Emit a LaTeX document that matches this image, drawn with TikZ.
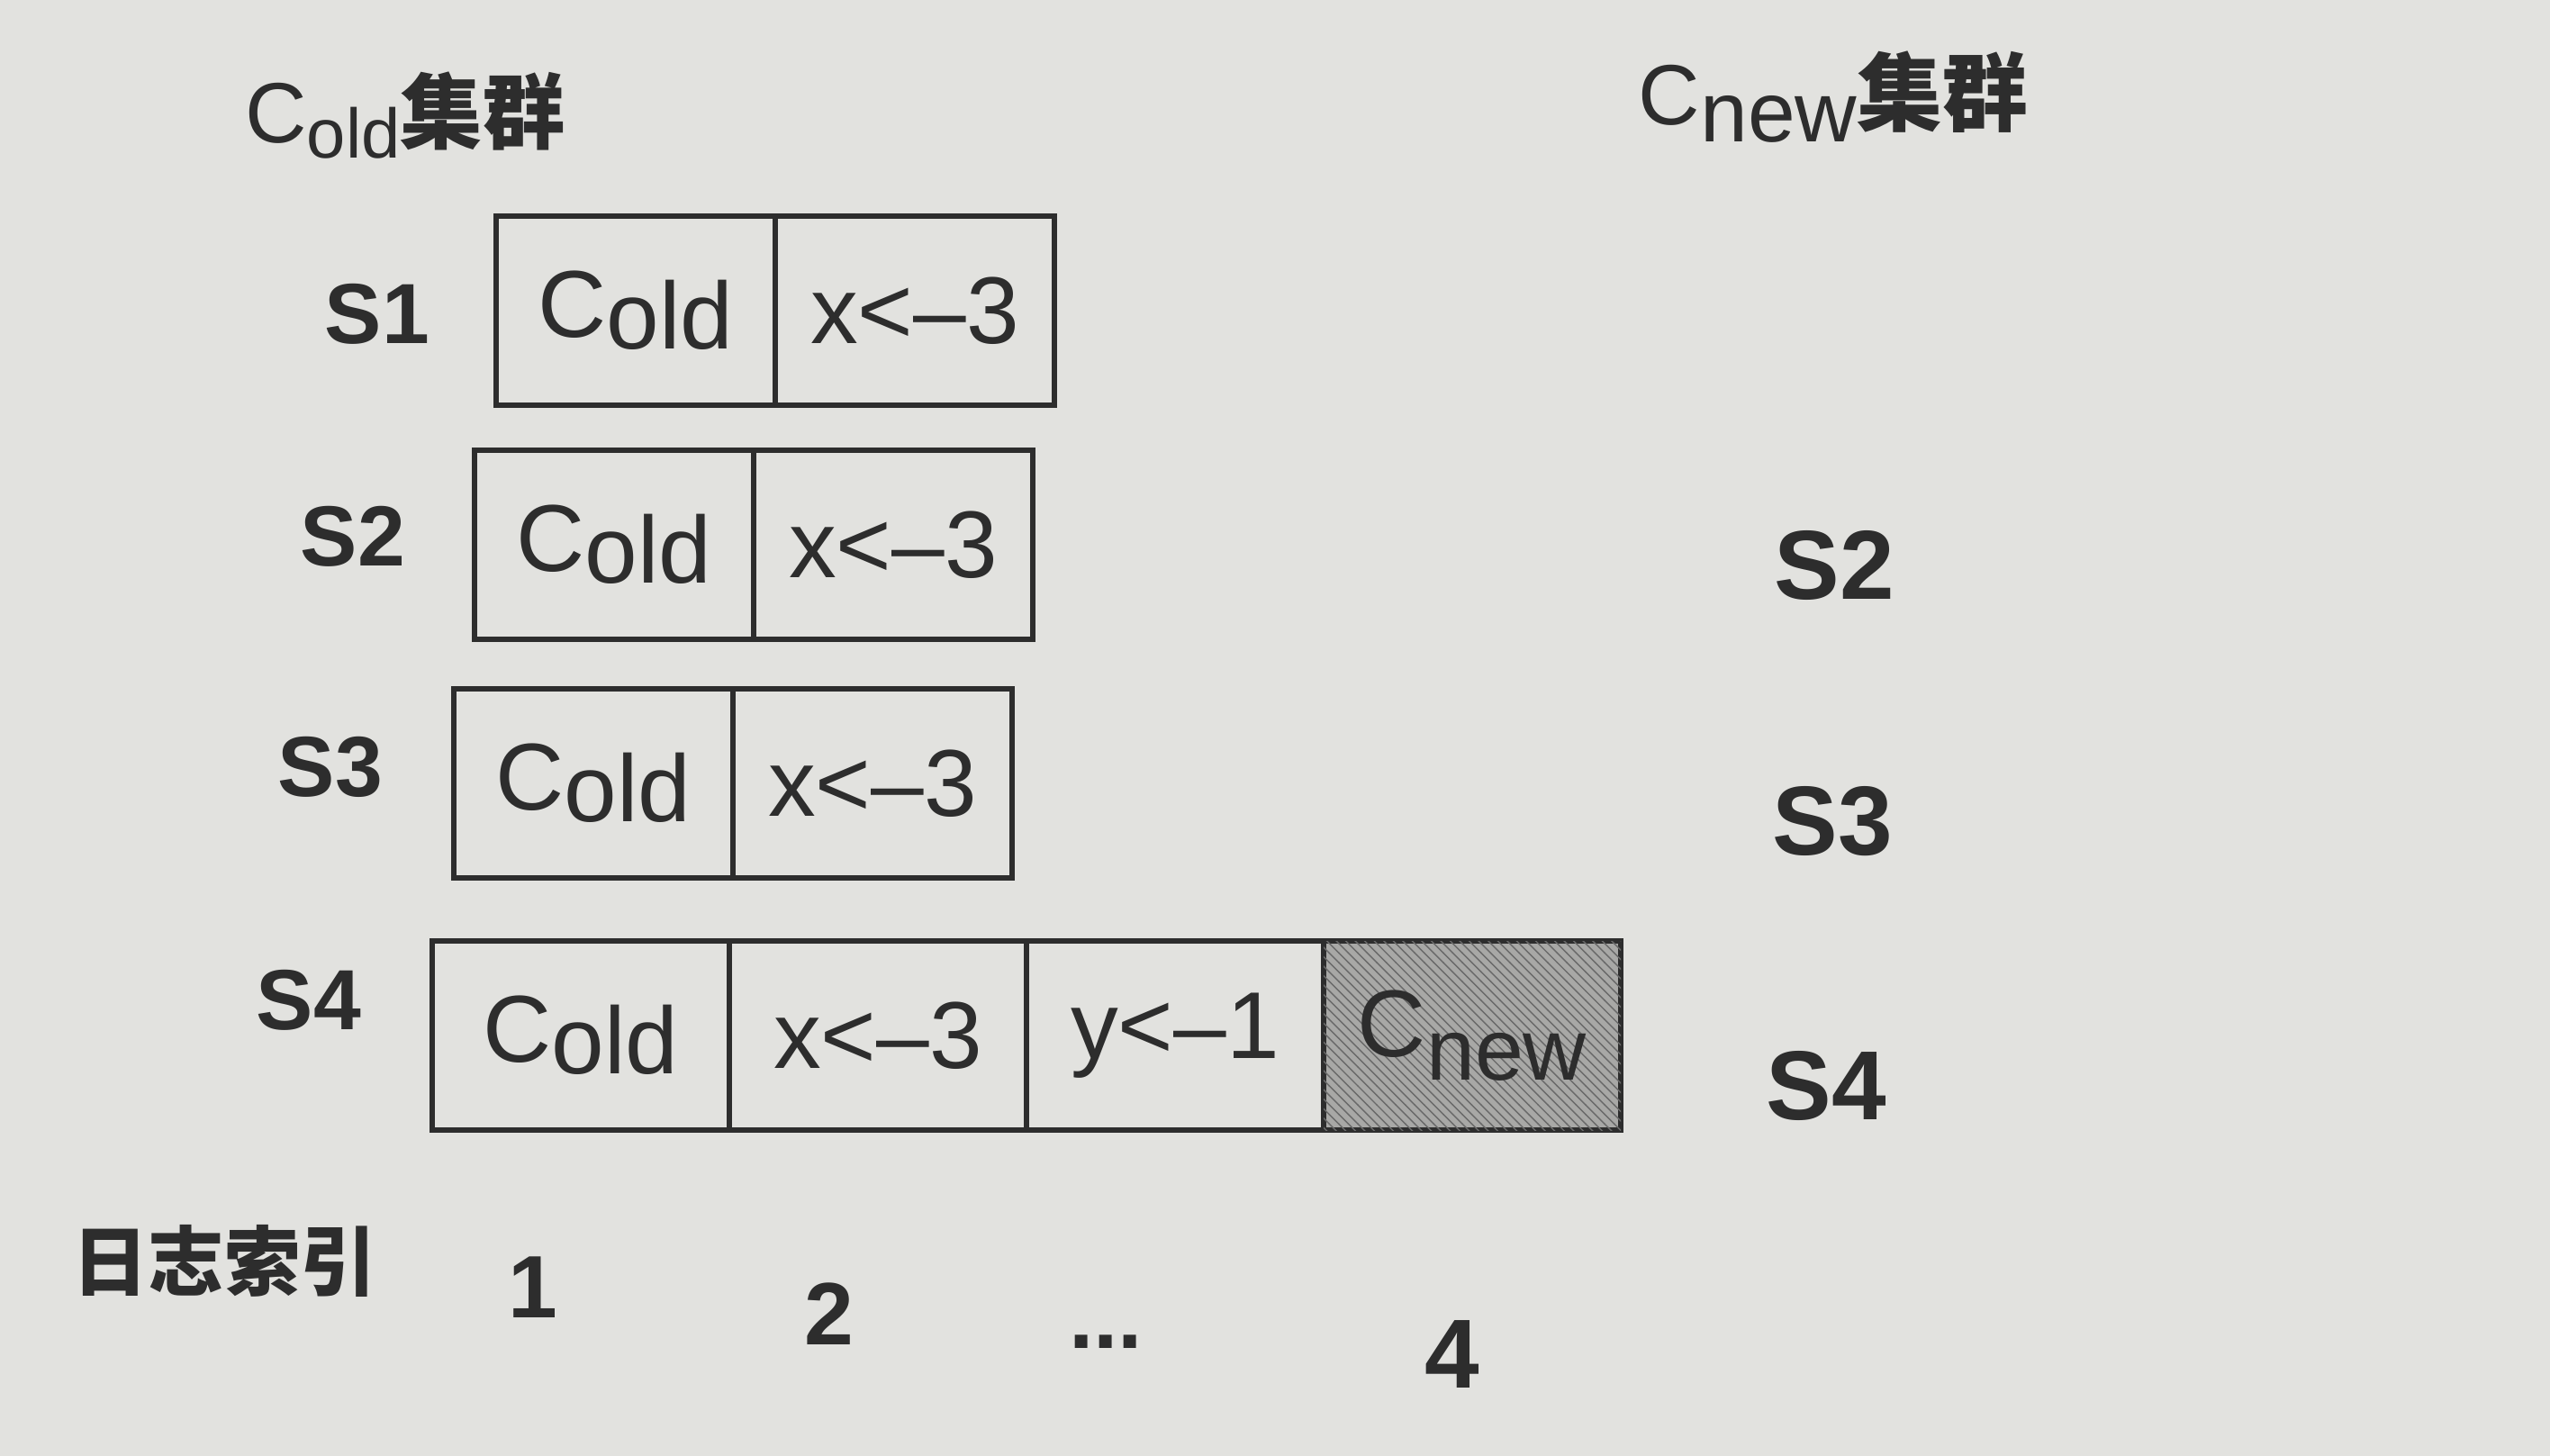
\documentclass[tikz,border=0pt]{standalone}
\usepackage{fontspec}
\setmainfont{Liberation Sans}
\newfontfamily\cjk{Noto Sans CJK SC}
\usepackage{graphicx}
\usepackage{tikz}
\usetikzlibrary{positioning,patterns}

\definecolor{paper}{RGB}{226,226,223}
\definecolor{ink}{RGB}{45,45,45}
\definecolor{hatchbg}{RGB}{168,168,166}
\definecolor{hatchln}{RGB}{105,105,105}

% C with a lowered word after it
\newcommand{\Cwith}[2]{C\raisebox{-#1}{#2}}

\tikzset{
  cell/.style={draw=ink,line width=1.6pt,minimum width=3.1cm,minimum height=2.1cm,
    inner sep=0pt,outer sep=0pt,text=ink,font=\fontsize{30}{30}\selectfont},
  wide/.style={minimum width=3.3cm},
  newcell/.style={fill=hatchbg,postaction={pattern=north west lines,pattern color=hatchln}},
  srv/.style={text=ink,font=\fontsize{27}{27}\selectfont\bfseries},
  srvnew/.style={text=ink,font=\fontsize{31}{31}\selectfont\bfseries},
  title/.style={text=ink,font=\fontsize{27}{27}\selectfont},
  idx/.style={text=ink,font=\fontsize{28}{28}\selectfont\bfseries}
}

\begin{document}
\begin{tikzpicture}

  % paper
  \useasboundingbox (0,0) rectangle (28.32,-16.17);
  \fill[paper] (0,0) rectangle (28.32,-16.17);

  % cluster titles
  \node[title] (told) at (4.50,-1.28) {\Cwith{0.18em}{\scalebox{0.82}{old}}{\cjk\bfseries\fontsize{26}{26}\selectfont 集群}};
  \node[title] (tnew) at (20.36,-1.08) {\Cwith{0.2em}{new}{\cjk\bfseries\fontsize{27}{27}\selectfont 集群}};

  % logs of S1..S3
  \foreach \i/\x/\y in {1/7.06/3.45,2/6.82/6.05,3/6.59/8.70} {
    \node[cell] (c\i-1) at (\x,-\y) {\Cwith{0.12em}{old}};
    \node[cell,right=0pt of c\i-1] (c\i-2) {x<–3};
  }

  % log of S4 with the new configuration
  \node[cell,wide] (c4-1) at (6.45,-11.50) {\Cwith{0.12em}{old}};
  \node[cell,wide,right=0pt of c4-1] (c4-2) {x<–3};
  \node[cell,wide,right=0pt of c4-2] (c4-3) {y<–1};
  \node[cell,wide,newcell,right=0pt of c4-3] (c4-4) {\Cwith{0.25em}{\scalebox{0.92}{new}}};

  % servers of C_old
  \node[srv] (s1) at (4.19,-3.49) {S1};
  \node[srv] (s2) at (3.92,-5.96) {S2};
  \node[srv] (s3) at (3.67,-8.52) {S3};
  \node[srv] (s4) at (3.43,-11.11) {S4};

  % servers of C_new
  \node[srvnew] (n2) at (20.37,-6.28) {S2};
  \node[srvnew] (n3) at (20.35,-9.12) {S3};
  \node[srvnew] (n4) at (20.28,-12.06) {S4};

  % log index
  \node[text=ink,font=\cjk\bfseries\fontsize{24}{24}\selectfont] (lidx) at (2.49,-14.00) {日志索引};
  \node[idx] (i1) at (5.92,-14.30) {1};
  \node[idx] (i2) at (9.21,-14.59) {2};
  \node[idx] (idots) at (12.28,-14.90) {...};
  \node[idx,font=\fontsize{31}{31}\selectfont\bfseries] (i4) at (16.13,-15.04) {4};

\end{tikzpicture}
\end{document}
